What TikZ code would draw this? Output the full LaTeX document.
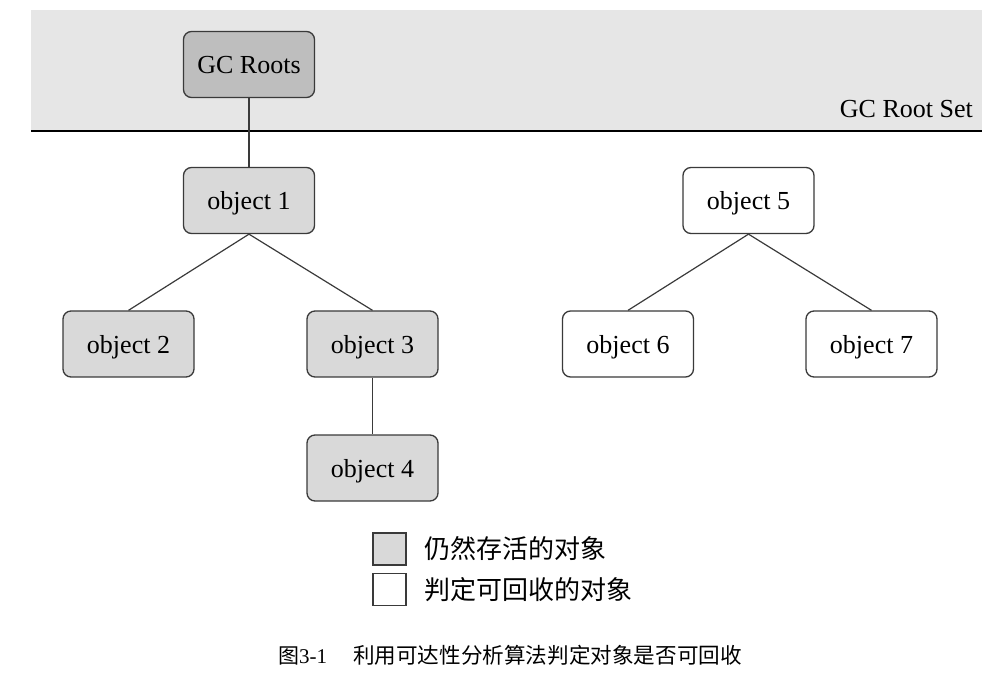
\documentclass[tikz,border=0pt]{standalone}
\usepackage{fontspec}
\setmainfont{Liberation Serif}
\newfontfamily\cjk{Noto Sans CJK SC}
\definecolor{bandgray}{HTML}{E6E6E6}
\definecolor{rootgray}{HTML}{BEBEBE}
\definecolor{objgray}{HTML}{D9D9D9}
\definecolor{edgegray}{HTML}{3A3A3A}
\tikzset{
  objbox/.style={draw=edgegray, line width=1.3pt, rounded corners=8pt, minimum width=131pt, minimum height=66pt, inner sep=0pt, text height=19pt, text depth=0pt, font=\fontsize{26}{30}\selectfont},
  alive/.style={objbox, fill=objgray},
  dead/.style={objbox, fill=white},
  link/.style={draw=edgegray, line width=1.2pt},
  legbox/.style={draw=edgegray, line width=1.3pt, minimum width=33pt, minimum height=32pt, inner sep=0pt},
  legtext/.style={anchor=west, inner sep=0pt, font=\fontsize{26}{30}\selectfont\cjk}
}
\begin{document}
\begin{tikzpicture}[x=1pt,y=-1pt]
\useasboundingbox (0,0) rectangle (1002,676);
\fill[bandgray] (31,10) rectangle (982,131);
\draw[line width=1.5pt] (31,131) -- (982,131);
\node[anchor=base east, inner sep=0pt, font=\fontsize{26}{30}\selectfont] (setlbl) at (973,118) {GC Root Set};
\node[objbox, fill=rootgray] (gc) at (249,64.5) {GC Roots};
\node[alive] (o1) at (249,200.5) {object 1};
\node[alive] (o2) at (128.5,344) {object 2};
\node[alive] (o3) at (372.5,344) {object 3};
\node[alive] (o4) at (372.5,468) {object 4};
\node[dead] (o5) at (748.5,200.5) {object 5};
\node[dead] (o6) at (628,344) {object 6};
\node[dead] (o7) at (871.5,344) {object 7};
\draw[link] (gc.south) -- (o1.north);
\draw[link] (o1.south) -- (o2.north);
\draw[link] (o1.south) -- (o3.north);
\draw[link] (o3.south) -- (o4.north);
\draw[link] (o5.south) -- (o6.north);
\draw[link] (o5.south) -- (o7.north);
\node[legbox, fill=objgray] (lg1) at (389.5,549) {};
\node[legbox, fill=white] (lg2) at (389.5,589.5) {};
\node[legtext] (lt1) at (424,549) {仍然存活的对象};
\node[legtext] (lt2) at (424,589.5) {判定可回收的对象};
\node[anchor=west, inner sep=0pt, font=\fontsize{21}{25}\selectfont] (cap) at (278,655) {{\cjk 图}3-1\hspace{26pt}{\fontsize{21.6}{25}\selectfont\cjk 利用可达性分析算法判定对象是否可回收}};
\end{tikzpicture}
\end{document}
